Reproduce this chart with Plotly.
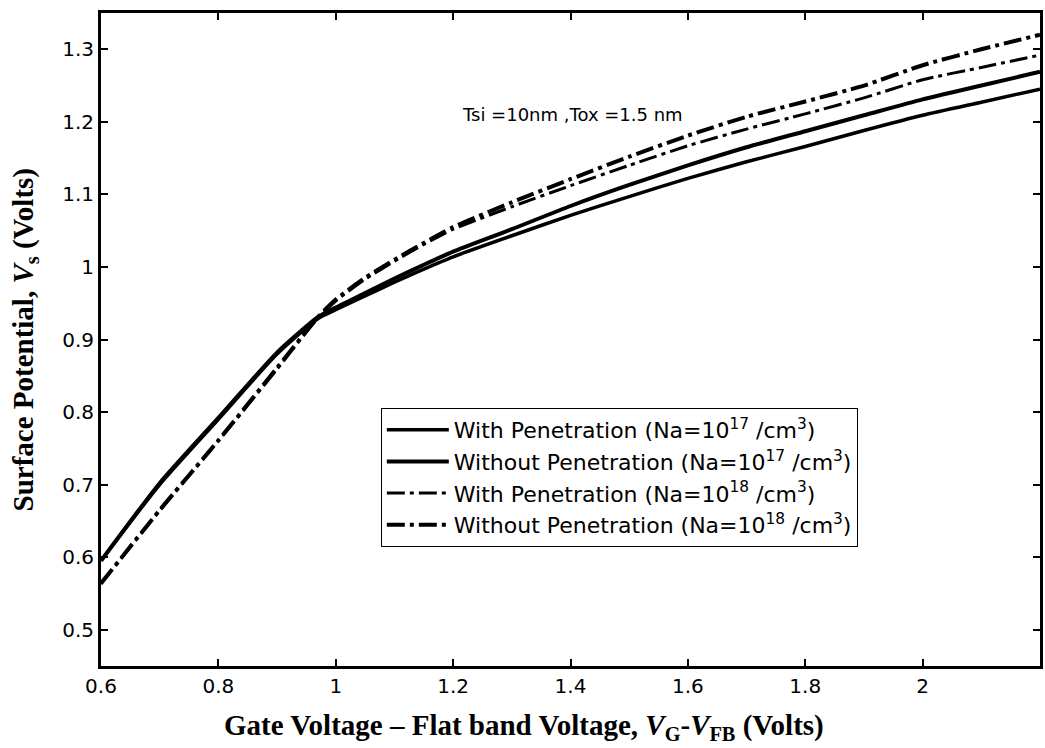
import plotly.graph_objects as go

# Gate voltage minus flat-band voltage (V)
vg = [0.6, 0.7, 0.8, 0.9, 0.97, 1.0, 1.05, 1.1, 1.15, 1.2, 1.3, 1.4, 1.5, 1.6, 1.7, 1.8, 1.9, 2.0, 2.1, 2.2]

# Surface potential (V) for each case
with_pen_17 = [0.595, 0.700, 0.790, 0.880, 0.929, 0.941, 0.960, 0.979, 0.997, 1.014, 1.043, 1.071, 1.097, 1.122, 1.145, 1.166, 1.188, 1.209, 1.227, 1.245]
without_pen_17 = [0.595, 0.702, 0.792, 0.882, 0.931, 0.944, 0.964, 0.984, 1.003, 1.021, 1.052, 1.084, 1.113, 1.140, 1.165, 1.187, 1.209, 1.231, 1.250, 1.269]
with_pen_18 = [0.563, 0.664, 0.760, 0.859, 0.930, 0.953, 0.983, 1.008, 1.031, 1.052, 1.083, 1.112, 1.140, 1.167, 1.190, 1.211, 1.233, 1.258, 1.275, 1.292]
without_pen_18 = [0.564, 0.665, 0.761, 0.861, 0.931, 0.955, 0.985, 1.010, 1.033, 1.055, 1.089, 1.121, 1.152, 1.181, 1.207, 1.228, 1.250, 1.278, 1.300, 1.320]

x_ticks = [0.6, 0.8, 1.0, 1.2, 1.4, 1.6, 1.8, 2.0]
x_tick_text = ["0.6", "0.8", "1", "1.2", "1.4", "1.6", "1.8", "2"]
y_ticks = [0.5, 0.6, 0.7, 0.8, 0.9, 1.0, 1.1, 1.2, 1.3]
y_tick_text = ["0.5", "0.6", "0.7", "0.8", "0.9", "1", "1.1", "1.2", "1.3"]

names = [
    "With Penetration (Na=10<sup>17</sup> /cm<sup>3</sup>)",
    "Without Penetration (Na=10<sup>17</sup> /cm<sup>3</sup>)",
    "With Penetration (Na=10<sup>18</sup> /cm<sup>3</sup>)",
    "Without Penetration (Na=10<sup>18</sup> /cm<sup>3</sup>)",
]

dashdot = "18px,5px,4px,5px"
series = [
    (with_pen_17, names[0], "solid", 3.5),
    (without_pen_17, names[1], "solid", 4),
    (with_pen_18, names[2], dashdot, 3),
    (without_pen_18, names[3], dashdot, 4),
]

fig = go.Figure()
for ys, name, dash, w in series:
    fig.add_trace(go.Scatter(
        x=vg, y=ys, name=name, mode="lines",
        line=dict(color="black", width=w, dash=dash, shape="spline", smoothing=0.6),
    ))

sans = "DejaVu Sans, Verdana, sans-serif"
serif = "Liberation Serif, Times New Roman, serif"
tick_font = dict(family=sans, size=20, color="black")
axis_common = dict(
    showgrid=False, zeroline=False, showline=True, linecolor="black", linewidth=3,
    mirror="ticks", ticks="inside", ticklen=7, tickwidth=2, tickcolor="black",
    tickfont=tick_font,
)

fig.update_layout(
    width=1045, height=748,
    margin=dict(l=101, r=2, t=13, b=82),
    paper_bgcolor="white", plot_bgcolor="white",
    showlegend=True,
    legend=dict(
        x=0.298, y=0.395, xanchor="left", yanchor="top",
        bgcolor="white", bordercolor="black", borderwidth=1,
        font=dict(family=sans, size=22, color="black"),
        tracegroupgap=0, itemwidth=62,
    ),
    xaxis=dict(range=[0.6, 2.2], tickvals=x_ticks, ticktext=x_tick_text, **axis_common),
    yaxis=dict(range=[0.45, 1.35], tickvals=y_ticks, ticktext=y_tick_text, **axis_common),
    annotations=[
        dict(
            text="Tsi =10nm ,Tox =1.5 nm", xref="paper", yref="paper",
            x=0.502, y=0.845, xanchor="center", yanchor="middle", showarrow=False,
            font=dict(family=sans, size=18, color="black"),
        ),
        dict(
            text="<b>Gate Voltage \u2013 Flat band Voltage, <i>V</i><sub>G</sub>-<i>V</i><sub>FB</sub> (Volts)</b>",
            xref="paper", yref="paper", x=0.45, y=-0.094,
            xanchor="center", yanchor="middle", showarrow=False,
            font=dict(family=serif, size=29, color="black"),
        ),
        dict(
            text="<b>Surface Potential, <i>V</i><sub>s</sub> (Volts)</b>",
            xref="paper", yref="paper", x=-0.082, y=0.50, textangle=-90,
            xanchor="center", yanchor="middle", showarrow=False,
            font=dict(family=serif, size=29, color="black"),
        ),
    ],
)

fig.write_html("out.html")
